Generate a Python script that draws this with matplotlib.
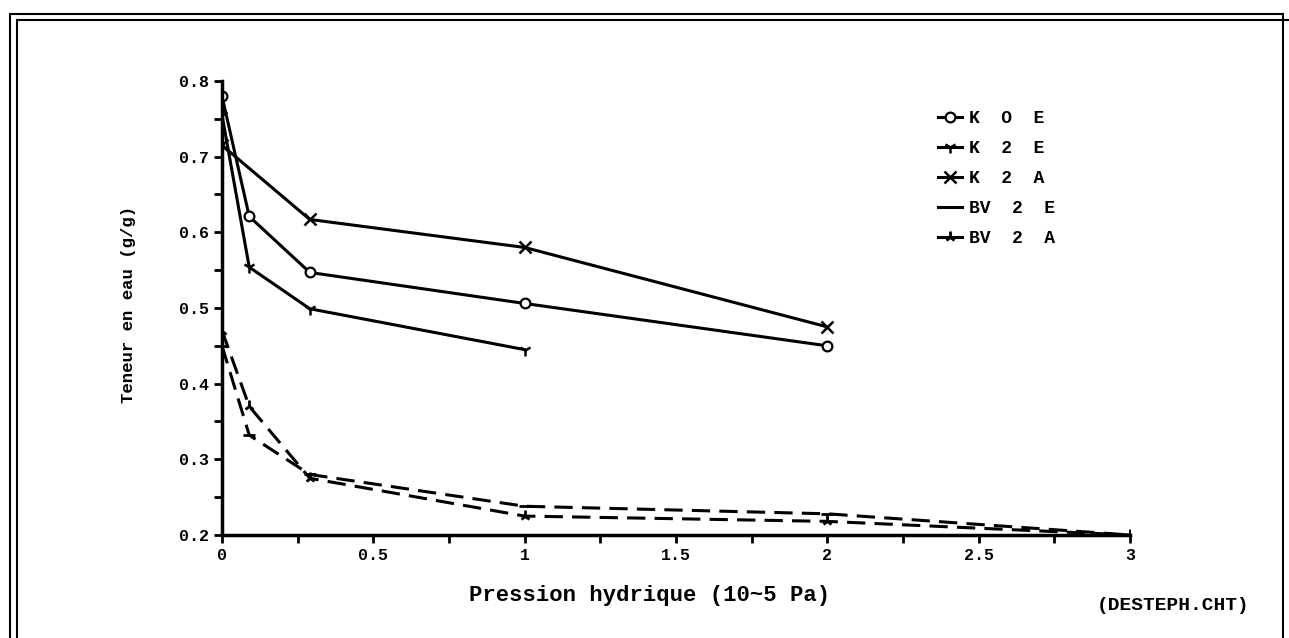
import matplotlib.pyplot as plt
from matplotlib.patches import Rectangle
from matplotlib.ticker import MultipleLocator, FormatStrFormatter

plt.rcParams["font.family"] = ["Liberation Mono", "DejaVu Sans Mono"]
plt.rcParams["font.weight"] = "bold"

# Pression hydrique (10^5 Pa)
x_k0e = [0, 0.09, 0.29, 1, 2]
x_k2e = [0, 0.09, 0.29, 1]
x_k2a = [0, 0.29, 1, 2]
x_bv = [0, 0.09, 0.29, 1, 2, 3]

# Teneur en eau (g/g)
k0e = [0.78, 0.621, 0.547, 0.506, 0.450]
k2e = [0.755, 0.554, 0.499, 0.445]
k2a = [0.715, 0.617, 0.580, 0.475]
bv2e = [0.45, 0.332, 0.280, 0.238, 0.228, 0.200]
bv2a = [0.47, 0.370, 0.275, 0.225, 0.218, 0.200]

labels = ["K  O  E", "K  2  E", "K  2  A", "BV  2  E", "BV  2  A"]

W, H = 1289, 638
fig = plt.figure(figsize=(W / 100, H / 100), dpi=100)
ax = fig.add_axes([222 / W, 1 - 535 / H, 908 / W, 454 / H])

lw = 2.2
ax.plot(x_k0e, k0e, color="black", lw=lw, marker="o", ms=7, mfc="white",
        mec="black", mew=1.6, label=labels[0])
ax.plot(x_k2e, k2e, color="black", lw=lw, marker="1", ms=9, mew=1.8,
        label=labels[1])
ax.plot(x_k2a, k2a, color="black", lw=lw, marker="x", ms=8, mew=1.8,
        label=labels[2])
ax.plot(x_bv, bv2e, color="black", lw=lw, ls=(0, (6, 3)), marker="_",
        ms=9, mew=2, label=labels[3])
ax.plot(x_bv, bv2a, color="black", lw=lw, ls=(0, (6, 3)), marker="2",
        ms=8, mew=2, label=labels[4])

ax.set_xlim(0, 3)
ax.set_ylim(0.2, 0.8)
ax.xaxis.set_major_locator(MultipleLocator(0.5))
ax.xaxis.set_minor_locator(MultipleLocator(0.25))
ax.yaxis.set_major_locator(MultipleLocator(0.1))
ax.yaxis.set_minor_locator(MultipleLocator(0.05))
ax.xaxis.set_major_formatter(FormatStrFormatter("%g"))
ax.yaxis.set_major_formatter(FormatStrFormatter("%.1f"))
ax.tick_params(axis="both", which="both", direction="out", width=2,
               length=6, labelsize=12)
for side in ["top", "right"]:
    ax.spines[side].set_visible(False)
for side in ["left", "bottom"]:
    ax.spines[side].set_linewidth(2.5)

ax.set_xlabel("Pression hydrique (10~5 Pa)", fontsize=16, fontweight="bold")
ax.xaxis.set_label_coords((650 - 222) / 908, -0.11)
ax.set_ylabel("Teneur en eau (g/g)", fontsize=12.5, fontweight="bold")
ax.yaxis.set_label_coords(-0.095, 0.507)

leg = fig.legend(loc="upper left", bbox_to_anchor=(922 / W, 1 - 94 / H),
                 frameon=False, fontsize=13, handlelength=1.3,
                 handletextpad=0.4, labelspacing=0.72)
for h in leg.get_lines():
    h.set_linestyle("-")

fig.text(1250 / W, 1 - 606 / H, "(DESTEPH.CHT)", ha="right", va="center",
         fontsize=14, fontweight="bold")

# double cadre autour de la figure
fig.add_artist(Rectangle((10 / W, -0.05), 1273 / W, 1.05 - 14 / H,
                         transform=fig.transFigure, fill=False, lw=1.5,
                         ec="black"))
fig.add_artist(Rectangle((17 / W, -0.05), 1.1, 1.05 - 20 / H,
                         transform=fig.transFigure, fill=False, lw=1.5,
                         ec="black"))

fig.savefig("out.png", dpi=100)
